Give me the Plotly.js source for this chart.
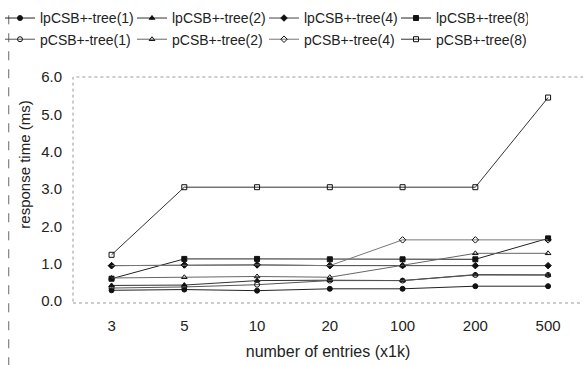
<!DOCTYPE html>
<html>
<head>
<meta charset="utf-8">
<script src="https://cdn.plot.ly/plotly-3.0.1.min.js"></script>
<style>html,body{margin:0;padding:0;background:#fff;}#chart{width:583px;height:365px;}</style>
</head>
<body>
<div id="chart"></div>
<script>
const categories = ["3", "5", "10", "20", "100", "200", "500"];
const seriesNames = ["lpCSB+-tree(1)", "lpCSB+-tree(2)", "lpCSB+-tree(4)", "lpCSB+-tree(8)",
                     "pCSB+-tree(1)", "pCSB+-tree(2)", "pCSB+-tree(4)", "pCSB+-tree(8)"];
const lpCSB1 = [0.29, 0.31, 0.28, 0.33, 0.33, 0.40, 0.40];
const lpCSB2 = [0.42, 0.43, 0.55, 0.56, 0.55, 0.71, 0.70];
const lpCSB4 = [0.95, 0.97, 0.97, 0.95, 0.95, 0.95, 0.95];
const lpCSB8 = [0.60, 1.13, 1.13, 1.12, 1.12, 1.12, 1.68];
const pCSB1  = [0.35, 0.38, 0.44, 0.55, 0.55, 0.70, 0.70];
const pCSB2  = [0.62, 0.64, 0.66, 0.64, 0.95, 1.28, 1.28];
const pCSB4  = [0.95, 0.97, 0.97, 0.95, 1.64, 1.64, 1.64];
const pCSB8  = [1.24, 3.05, 3.05, 3.05, 3.05, 3.05, 5.45];
const yTicks = [0, 1, 2, 3, 4, 5, 6];

const values = [lpCSB1, lpCSB2, lpCSB4, lpCSB8, pCSB1, pCSB2, pCSB4, pCSB8];
const symbols = ["circle", "triangle-up", "diamond", "square",
                 "circle-open", "triangle-up-open", "diamond-open", "square-open"];
const lineColors = ["#222", "#333", "#444", "#222", "#555", "#666", "#777", "#333"];

const traces = values.map((v, i) => ({
  type: "scatter",
  mode: "lines+markers",
  name: seriesNames[i],
  x: categories,
  y: v,
  line: {color: lineColors[i], width: 1},
  marker: {symbol: symbols[i], size: 5, color: "#111", line: {color: "#111", width: 1}}
}));

const font = "Liberation Sans, Arial, sans-serif";
const layout = {
  width: 583, height: 365,
  margin: {l: 68, r: 0, t: 77, b: 62},
  paper_bgcolor: "#fff", plot_bgcolor: "#fff",
  font: {family: font, size: 15, color: "#222"},
  showlegend: true,
  legend: {
    orientation: "h", x: -0.144, xanchor: "left", y: 1.33, yanchor: "top",
    entrywidth: 87, entrywidthmode: "pixels",
    font: {family: font, size: 14, color: "#222"},
    bgcolor: "rgba(0,0,0,0)", tracegroupgap: 0, itemwidth: 30
  },
  xaxis: {
    type: "category", range: [-0.53, 6.48],
    showgrid: false, zeroline: false, showline: false,
    ticks: "", ticklabelstandoff: 12,
    tickfont: {family: font, size: 15, color: "#222"},
    title: {text: "number of entries (x1k)", font: {family: font, size: 16, color: "#222"}, standoff: 12}
  },
  yaxis: {
    range: [-0.05, 6.0],
    tickvals: yTicks, tickformat: ".1f",
    showgrid: false, zeroline: false, showline: false,
    ticks: "", ticklabelstandoff: 10,
    tickfont: {family: font, size: 15, color: "#222"}
  },
  shapes: [
    {type: "rect", xref: "paper", yref: "paper", x0: 0, x1: 1.02, y0: 0, y1: 1,
     line: {color: "#999", width: 1, dash: "dot"}},
    {type: "line", xref: "paper", yref: "paper", x0: -0.126, x1: -0.126, y0: -0.28, y1: 1.29,
     line: {color: "#666", width: 1, dash: "dash"}}
  ],
  annotations: [
    {text: "response time (ms)", xref: "paper", yref: "paper", x: -0.095, y: 0.61,
     xanchor: "center", yanchor: "middle", textangle: -90, showarrow: false,
     font: {family: font, size: 15, color: "#222"}}
  ]
};

Plotly.newPlot("chart", traces, layout, {displayModeBar: false, staticPlot: true});
</script>
</body>
</html>
